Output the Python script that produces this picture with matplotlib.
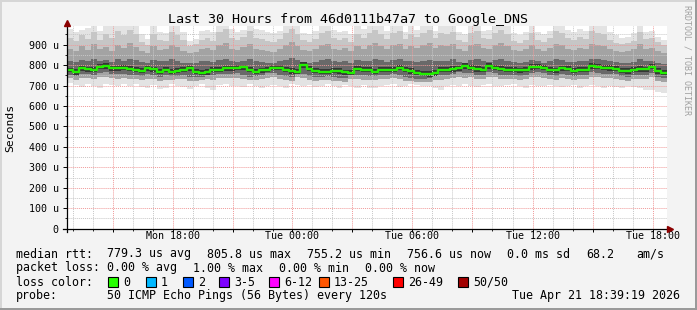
import numpy as np
import matplotlib
matplotlib.use("Agg")
import matplotlib.pyplot as plt
from matplotlib.patches import Rectangle
from matplotlib.lines import Line2D
from matplotlib.ticker import FixedLocator, FuncFormatter

plt.rcParams['font.family'] = ['DejaVu Sans Mono', 'DejaVu Sans']

# time window in hours counted from Mon 00:00 (last 30 hours, 100 bins)
t_start = 12.7
t_end = 42.7

# median rtt per bin (microseconds)
median_rtt = [775, 765, 784, 779, 776, 792, 795, 784, 784, 787,
              781, 776, 771, 784, 779, 768, 776, 768, 772, 778,
              784, 768, 762, 766, 775, 778, 784, 784, 786, 790,
              778, 768, 774, 778, 787, 787, 776, 770, 768, 800,
              782, 772, 768, 768, 772, 770, 764, 762, 782, 776,
              776, 768, 776, 776, 778, 786, 776, 770, 762, 758,
              756, 760, 776, 778, 780, 784, 795, 788, 780, 776,
              794, 788, 782, 778, 776, 774, 778, 790, 792, 788,
              776, 774, 784, 782, 772, 776, 778, 794, 792, 786,
              785, 782, 772, 770, 778, 780, 779, 792, 770, 762]

# smoke: spread of the 50 pings per bin (microseconds)
ping_max = [975, 960, 970, 980, 1020, 965, 1020, 1020, 1020, 1020,
            1020, 1020, 950, 930, 1020, 960, 955, 1020, 1020, 960,
            920, 930, 965, 970, 960, 1020, 1020, 975, 960, 970,
            1020, 975, 970, 960, 955, 965, 1020, 1020, 1020, 955,
            950, 965, 1020, 1020, 970, 960, 965, 950, 1020, 975,
            1020, 1020, 1020, 965, 1020, 1020, 960, 1020, 970, 1020,
            1020, 965, 1020, 1020, 1020, 960, 950, 1020, 1020, 965,
            970, 1020, 1020, 1020, 955, 945, 960, 1020, 960, 950,
            965, 1020, 1020, 970, 960, 975, 965, 1020, 1020, 1020,
            960, 945, 935, 940, 955, 1020, 960, 965, 940, 925]
ping_p95 = [935, 920, 945, 930, 960, 925, 950, 935, 965, 945,
            970, 950, 915, 900, 950, 925, 920, 960, 945, 925,
            895, 905, 925, 935, 920, 960, 975, 935, 925, 940,
            965, 935, 930, 920, 915, 930, 955, 975, 950, 925,
            915, 930, 955, 965, 935, 925, 935, 915, 950, 935,
            955, 970, 950, 930, 955, 965, 930, 950, 940, 955,
            970, 935, 955, 950, 960, 925, 915, 955, 965, 935,
            930, 955, 970, 950, 920, 910, 925, 955, 925, 915,
            935, 965, 955, 935, 925, 940, 930, 965, 955, 950,
            925, 910, 905, 910, 920, 960, 930, 935, 915, 900]
ping_p90 = [880, 870, 895, 875, 905, 880, 890, 870, 900, 885,
            910, 890, 870, 860, 895, 875, 880, 900, 890, 870,
            860, 865, 880, 885, 875, 900, 910, 880, 875, 890,
            905, 880, 875, 870, 865, 880, 900, 915, 895, 875,
            870, 880, 900, 905, 880, 875, 885, 870, 895, 880,
            900, 910, 895, 880, 900, 905, 880, 895, 885, 900,
            910, 885, 900, 895, 905, 880, 870, 900, 905, 885,
            880, 900, 910, 895, 875, 870, 880, 900, 880, 870,
            885, 905, 900, 880, 875, 885, 880, 905, 900, 895,
            880, 870, 865, 870, 880, 905, 880, 885, 870, 860]
ping_p75 = [820, 815, 825, 818, 830, 822, 826, 815, 828, 820,
            832, 825, 815, 812, 826, 818, 820, 828, 822, 812,
            808, 810, 818, 820, 815, 826, 830, 818, 815, 822,
            830, 820, 815, 812, 810, 818, 826, 834, 825, 815,
            812, 816, 826, 830, 818, 815, 820, 812, 825, 818,
            822, 828, 824, 816, 825, 828, 818, 822, 816, 820,
            826, 818, 822, 820, 828, 816, 812, 824, 828, 818,
            816, 824, 830, 822, 814, 810, 816, 826, 818, 812,
            820, 828, 826, 816, 814, 818, 818, 830, 828, 824,
            818, 814, 810, 812, 816, 828, 818, 820, 812, 806]
ping_p60 = [788, 780, 797, 792, 790, 805, 808, 798, 797, 800,
            795, 790, 784, 798, 792, 782, 790, 782, 786, 792,
            798, 782, 776, 780, 789, 792, 797, 798, 800, 803,
            792, 782, 788, 792, 800, 801, 790, 784, 782, 814,
            796, 786, 782, 782, 786, 784, 778, 776, 796, 790,
            790, 782, 790, 790, 792, 800, 790, 784, 776, 772,
            770, 774, 790, 792, 794, 798, 808, 802, 794, 790,
            808, 802, 796, 792, 790, 788, 792, 804, 806, 802,
            790, 788, 798, 796, 786, 790, 792, 808, 806, 800,
            799, 796, 786, 784, 792, 794, 793, 806, 784, 776]
ping_p40 = [764, 754, 772, 768, 765, 780, 783, 772, 772, 775,
            770, 764, 760, 772, 768, 756, 764, 756, 760, 766,
            772, 756, 750, 754, 764, 766, 772, 772, 774, 778,
            766, 756, 762, 766, 775, 775, 764, 758, 756, 786,
            770, 760, 756, 756, 760, 758, 752, 750, 770, 764,
            764, 756, 764, 764, 766, 774, 764, 758, 750, 746,
            744, 748, 764, 766, 768, 772, 783, 776, 768, 764,
            782, 776, 770, 766, 764, 762, 766, 778, 780, 776,
            764, 762, 772, 770, 760, 764, 766, 782, 780, 774,
            773, 770, 760, 758, 766, 768, 767, 780, 758, 750]
ping_p25 = [752, 745, 758, 755, 752, 762, 765, 758, 756, 758,
            754, 752, 748, 756, 752, 744, 750, 745, 748, 752,
            744, 740, 744, 750, 752, 756, 756, 758, 760, 752,
            744, 748, 752, 760, 760, 750, 746, 744, 770, 756,
            748, 744, 744, 746, 744, 738, 736, 754, 750, 750,
            745, 748, 750, 752, 758, 750, 744, 738, 734, 734,
            736, 748, 750, 752, 756, 764, 760, 760, 754, 750,
            764, 760, 754, 752, 750, 748, 752, 762, 764, 760,
            750, 748, 756, 754, 746, 750, 752, 764, 762, 758,
            758, 756, 746, 744, 752, 754, 752, 762, 744, 738]
ping_p10 = [735, 728, 738, 736, 732, 740, 742, 736, 734, 738,
            734, 732, 728, 730, 734, 724, 728, 726, 730, 732,
            722, 720, 726, 730, 728, 736, 738, 736, 738, 732,
            726, 728, 730, 738, 740, 730, 726, 724, 744, 736,
            728, 724, 726, 728, 722, 720, 718, 732, 730, 728,
            726, 728, 730, 734, 736, 730, 724, 720, 716, 716,
            718, 726, 728, 732, 736, 742, 738, 740, 734, 730,
            742, 740, 734, 732, 730, 728, 732, 740, 742, 738,
            730, 728, 736, 734, 726, 730, 732, 742, 740, 736,
            736, 734, 726, 724, 730, 732, 730, 740, 722, 716]
ping_min = [712, 705, 695, 708, 700, 690, 710, 702, 698, 706,
            700, 708, 695, 690, 704, 685, 688, 706, 700, 692,
            684, 700, 708, 690, 680, 702, 706, 698, 700, 694,
            706, 700, 688, 696, 704, 700, 690, 708, 702, 698,
            704, 694, 700, 708, 696, 690, 702, 700, 686, 704,
            690, 688, 698, 702, 706, 694, 700, 708, 702, 700,
            696, 690, 680, 700, 704, 698, 706, 700, 694, 702,
            708, 700, 696, 702, 706, 698, 690, 704, 700, 696,
            704, 700, 694, 700, 702, 688, 698, 704, 696, 690,
            700, 692, 686, 700, 694, 690, 680, 676, 668, 664]

tick_hours = [18, 24, 30, 36, 42]
tick_labels = ['Mon 18:00', 'Tue 00:00', 'Tue 06:00', 'Tue 12:00', 'Tue 18:00']
y_ticks = [0, 100, 200, 300, 400, 500, 600, 700, 800, 900]

loss_labels = ['0', '1', '2', '3-5', '6-12', '13-25', '26-49', '50/50']
loss_colors = ['#26ff00', '#00b8ff', '#0059ff', '#7e00ff', '#ff00ff', '#ff5500', '#ff0000', '#a10000']

rtt_items = ['779.3 us avg', '805.8 us max', '755.2 us min', '756.6 us now', '0.0 ms sd', '68.2', 'am/s']
loss_items = ['0.00 % avg', '1.00 % max', '0.00 % min', '0.00 % now']


W, H = 697, 310
fig = plt.figure(figsize=(W / 100, H / 100), dpi=100, facecolor='#f3f3f3')

# plot area in pixels: left 66.5, right 666.5, top 26.3, bottom 228.6
ax = fig.add_axes([66.5 / W, 1 - 228.6 / H, 600 / W, (228.6 - 26.3) / H])
ax.set_facecolor('white')
ax.set_xlim(t_start, t_end)
ax.set_ylim(0, 990)

n = len(median_rtt)
edges = np.linspace(t_start, t_end, n + 1)

def closed(vals):
    return np.append(vals, vals[-1])

# smoke layers, outer to inner, getting darker towards the median
layers = [(ping_min, ping_max, '#e3e3e3'),
          (ping_p10, ping_p95, '#c6c6c6'),
          (ping_p10, ping_p90, '#a3a3a3'),
          (ping_p25, ping_p75, '#696969'),
          (ping_p40, ping_p60, '#363636')]
for lo, hi, col in layers:
    ax.fill_between(edges, closed(lo), closed(hi), step='post', color=col, lw=0, zorder=1)

ax.step(edges, closed(median_rtt), where='post', color='#22ee00', lw=1.7, zorder=4)

# grid: red every 3 hours / 100 u, grey dotted every hour / 50 u
ax.xaxis.set_major_locator(FixedLocator(np.arange(15, 43, 3)))
ax.xaxis.set_minor_locator(FixedLocator(np.arange(13, 43, 1)))
ax.yaxis.set_major_locator(FixedLocator(y_ticks))
ax.yaxis.set_minor_locator(FixedLocator(np.arange(50, 990, 100)))
ax.set_axisbelow(False)
ax.grid(which='minor', color='#c8c8c8', lw=0.7, linestyle=(0, (1, 1)))
ax.grid(which='major', color='#f09a9a', lw=0.7, linestyle=(0, (1, 1)))

ax.set_xticklabels([])
for h, lab in zip(tick_hours, tick_labels):
    ax.text(h, -12, lab, ha='center', va='top', fontsize=7.2)

ax.yaxis.set_major_formatter(FuncFormatter(lambda v, p: '0' if v == 0 else f'{int(v)} u'))
ax.tick_params(axis='y', which='major', length=3, width=0.7, pad=2.5, labelsize=7.2)
ax.tick_params(axis='x', which='major', length=2, width=0.7)
ax.tick_params(which='minor', length=1.5, width=0.6)

for s in ax.spines.values():
    s.set_visible(False)

# axis lines with the small dark red arrow heads
ax_left = 66.5 / W
ax_bottom = 1 - 228.6 / H
fig.add_artist(Line2D([63 / W, 669 / W], [ax_bottom, ax_bottom], color='black', lw=0.9))
fig.add_artist(Line2D([ax_left, ax_left], [1 - 232 / H, 1 - 24 / H], color='black', lw=0.9))
fig.add_artist(Line2D([670 / W], [ax_bottom], marker='>', color='#8b0000', markersize=4, lw=0))
fig.add_artist(Line2D([ax_left], [1 - 23 / H], marker='^', color='#8b0000', markersize=4, lw=0))

# titles
fig.text(348 / W, 1 - 19 / H, 'Last 30 Hours from 46d0111b47a7 to Google_DNS', ha='center', va='center', fontsize=9.6)
fig.text(10 / W, 1 - 128 / H, 'Seconds', ha='center', va='center', rotation=90, fontsize=8.2)
fig.text(687 / W, 1 - 5 / H, 'RRDTOOL / TOBI OETIKER', ha='center', va='top', rotation=270, fontsize=6, color='#a0a0a0')

# legend lines
def line_text(x, y, s):
    fig.text(x / W, 1 - y / H, s, ha='left', va='center', fontsize=8.4)

line_text(16, 254, 'median rtt:')
for x, s in zip([107, 207, 307, 407, 507, 586, 636], rtt_items):
    line_text(x, 254, s)

line_text(16, 268, 'packet loss:')
for x, s in zip([107, 193, 279, 365], loss_items):
    line_text(x, 268, s)

line_text(16, 282, 'loss color:')
box_x = [108, 146, 183, 219, 269, 319, 393, 458]
for x, lab, col in zip(box_x, loss_labels, loss_colors):
    fig.add_artist(Rectangle((x / W, 1 - 287 / H), 10 / W, 10 / H, facecolor=col, edgecolor='black', lw=0.8))
    line_text(x + 15, 282, lab)

line_text(16, 296, 'probe:')
line_text(107, 296, '50 ICMP Echo Pings (56 Bytes) every 120s')
fig.text(680 / W, 1 - 296 / H, 'Tue Apr 21 18:39:19 2026', ha='right', va='center', fontsize=8.4)

# 3d frame around the image
fig.add_artist(Rectangle((0, 0), 1, 2 / H, color='#9a9a9a', lw=0))
fig.add_artist(Rectangle((1 - 2 / W, 0), 2 / W, 1, color='#9a9a9a', lw=0))
fig.add_artist(Rectangle((0, 1 - 2 / H), 1 - 2 / W, 2 / H, color='#d6d6d6', lw=0))
fig.add_artist(Rectangle((0, 2 / H), 2 / W, 1 - 2 / H, color='#d6d6d6', lw=0))

fig.savefig('out.png', dpi=100, facecolor=fig.get_facecolor())
